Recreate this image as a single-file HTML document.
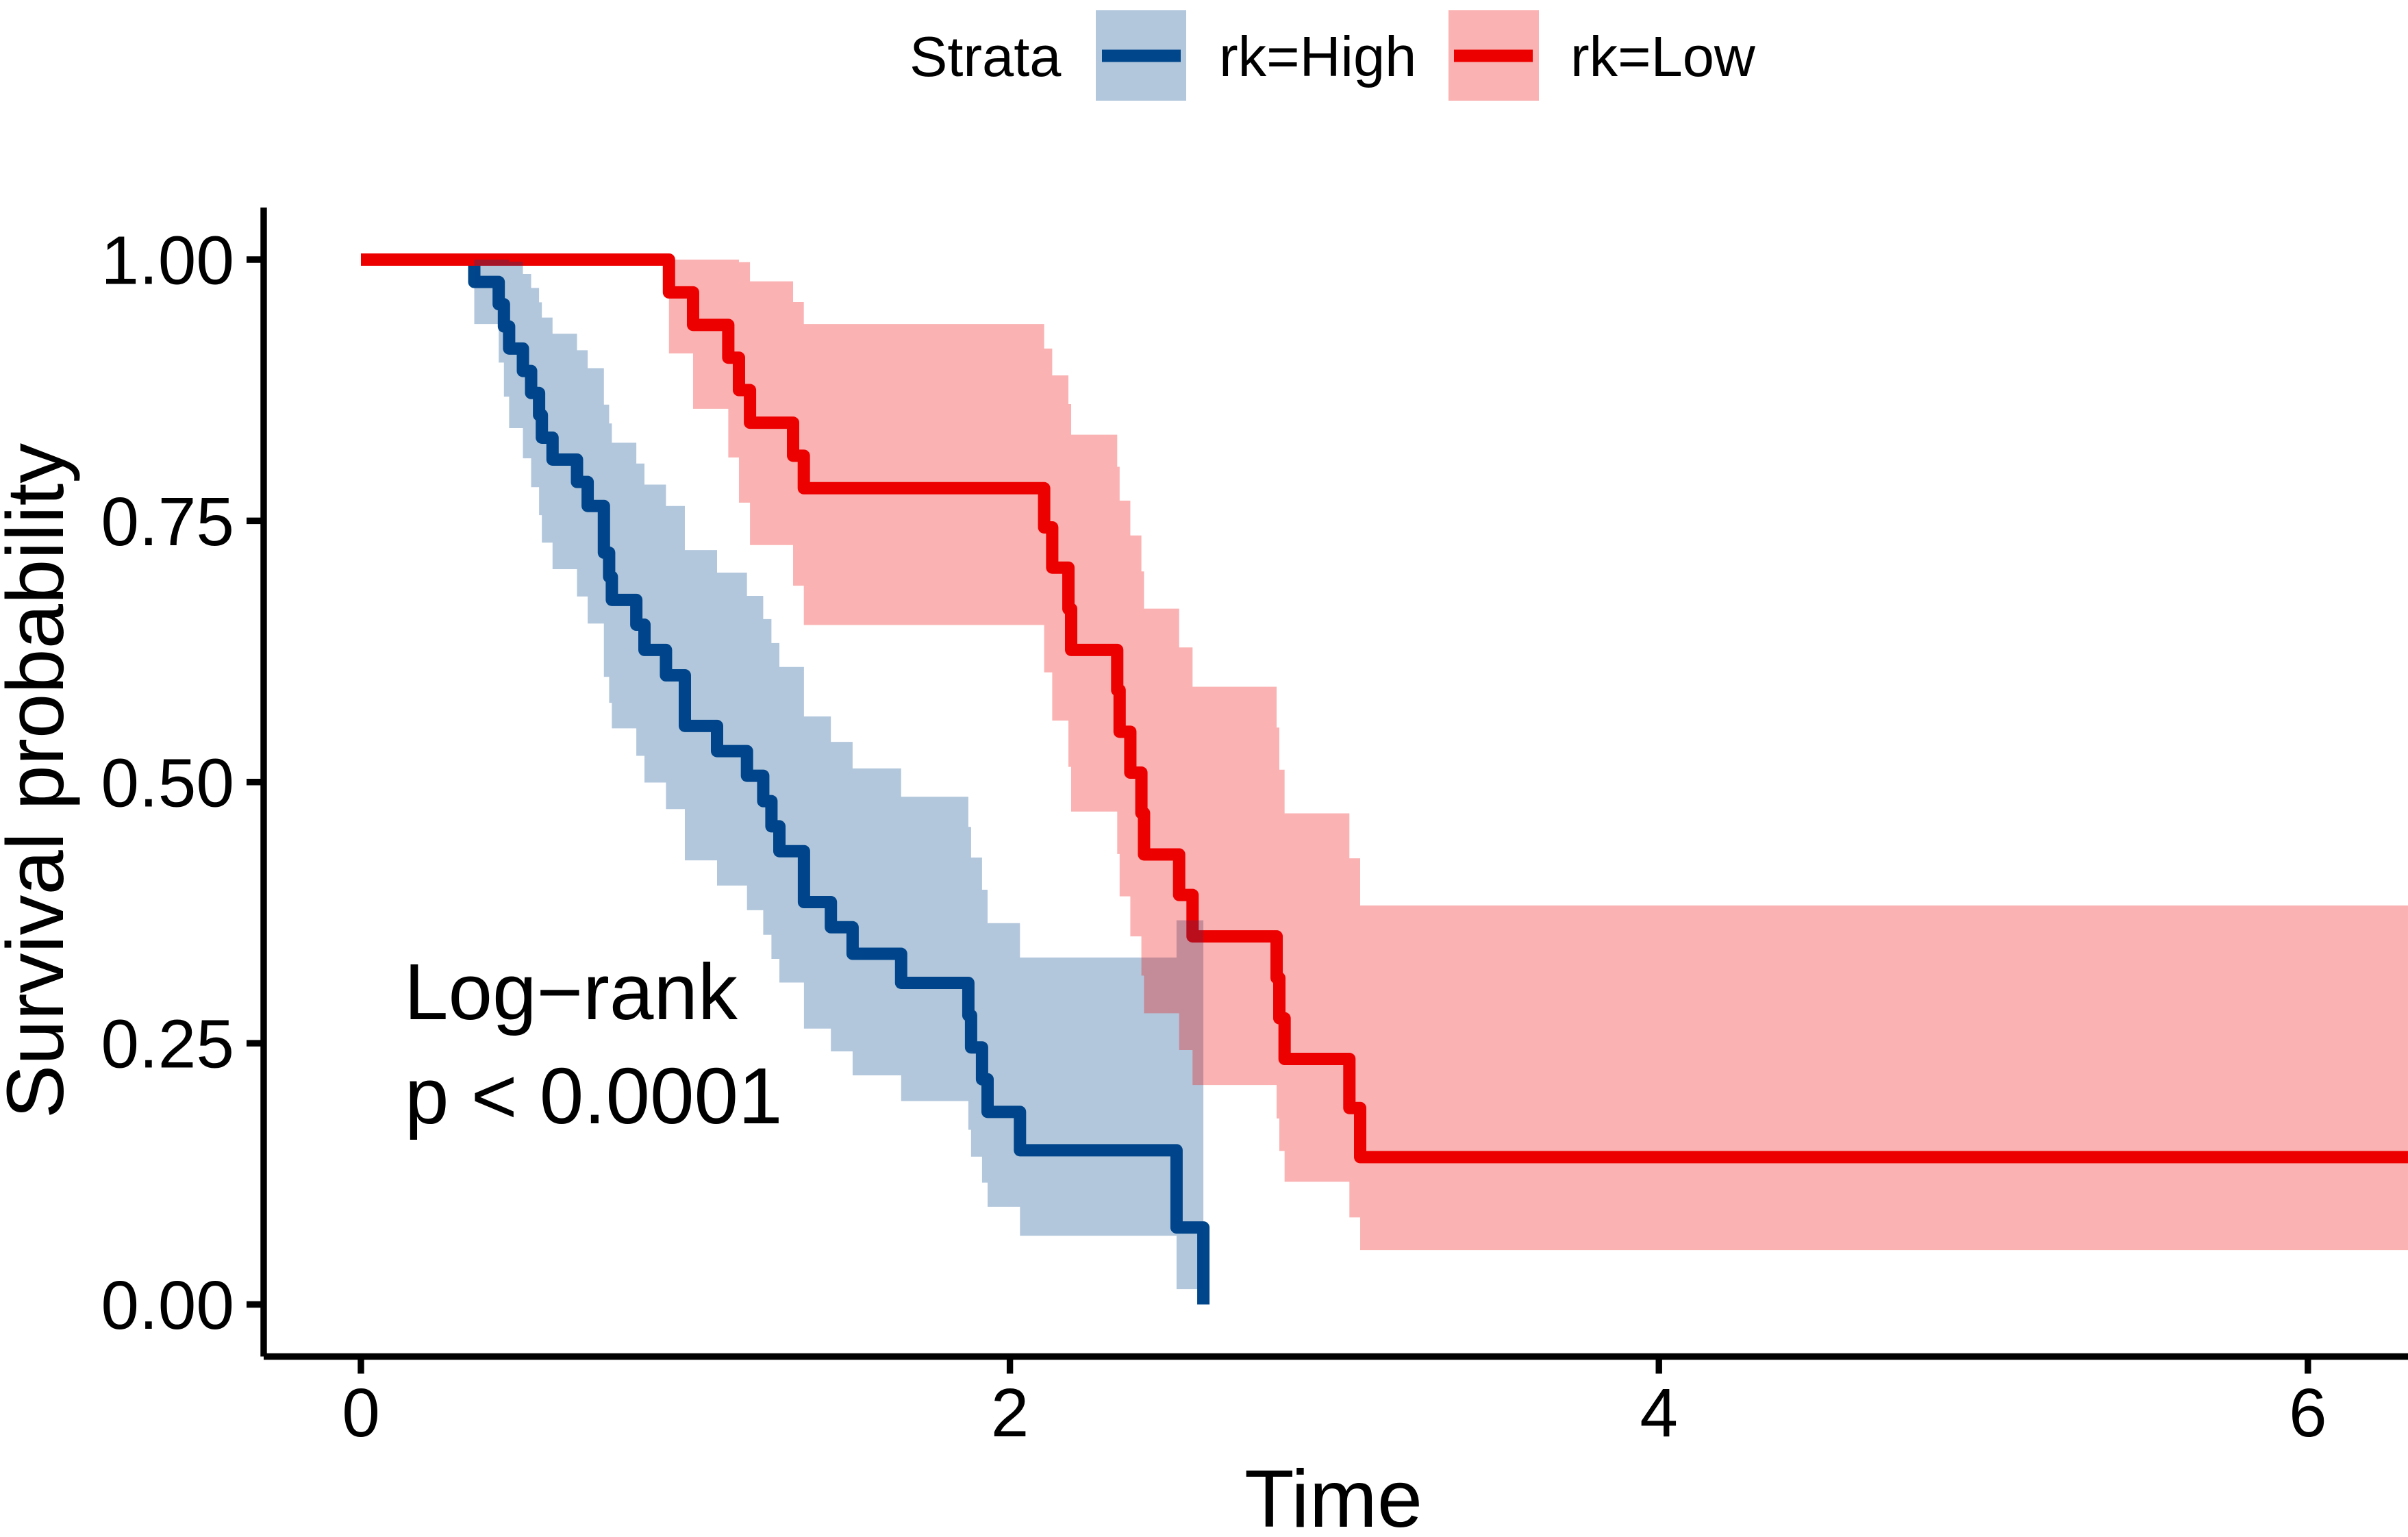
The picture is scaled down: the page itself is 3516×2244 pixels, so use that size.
<!DOCTYPE html>
<html lang="en">
<head>
<meta charset="utf-8">
<title>Kaplan-Meier survival curve</title>
<style>
html,body{margin:0;padding:0;background:#fff;}
svg{display:block;}
text{font-family:"Liberation Sans",sans-serif;fill:#000;}
</style>
</head>
<body>
<svg id="chart" xmlns="http://www.w3.org/2000/svg" width="3516" height="2244" viewBox="0 0 3516 2244">
  <rect x="0" y="0" width="3516" height="2244" fill="#ffffff"/>
  <g id="plot-lines"></g>
  <g id="plot-ribbons"></g>
  <g id="axes"></g>

  <g>
    <text x="1328" y="111" font-size="83">Strata</text>
    <rect x="1600" y="15" width="132" height="132" fill="#00468B" fill-opacity="0.3"/>
    <rect x="1609" y="72.5" width="115" height="18" fill="#00468B"/>
    <text x="1780" y="111" font-size="83">rk=High</text>
    <rect x="2115" y="15" width="132" height="132" fill="#ED0000" fill-opacity="0.3"/>
    <rect x="2123" y="72.5" width="115" height="18" fill="#ED0000"/>
    <text x="2293" y="111" font-size="83">rk=Low</text>
  </g>

  <text x="590" y="1488" font-size="116">Log−rank</text>
  <text x="591" y="1640" font-size="116">p &lt; 0.0001</text>

  <text x="1947" y="2229" font-size="119" text-anchor="middle">Time</text>
  <text transform="translate(92 1140) rotate(-90)" font-size="117.5" text-anchor="middle">Survival probability</text>
</svg>

<script>
const xTickValues = [0, 2, 4, 6];
const xTickLabels = ["0", "2", "4", "6"];
const yTickValues = [0, 0.25, 0.5, 0.75, 1];
const yTickLabels = ["0.00", "0.25", "0.50", "0.75", "1.00"];

const highTime = [0.3493,0.4246,0.4407,0.4567,0.4992,0.5245,0.5490,0.5576,0.5905,0.6659,0.6988,0.7488,0.7649,0.7733,0.8487,0.8738,0.9401,0.9983,1.0975,1.1897,1.2398,1.2651,1.2896,1.3653,1.4483,1.5152,1.6648,1.8719,1.8803,1.9141,1.9312,2.0310,2.5135,2.5962];
const highSurv = [0.9786,0.9573,0.9360,0.9149,0.8934,0.8723,0.8512,0.8296,0.8086,0.7872,0.7642,0.7195,0.6964,0.6743,0.6506,0.6264,0.6021,0.5537,0.5296,0.5060,0.4817,0.4576,0.4338,0.3851,0.3610,0.3356,0.3078,0.2767,0.2460,0.2155,0.1843,0.1476,0.0737,0];
const highUpper = [1,1,1,0.9980,0.9862,0.9729,0.9591,0.9445,0.9290,0.9132,0.8961,0.8612,0.8432,0.8247,0.8048,0.7847,0.7642,0.7220,0.7004,0.6781,0.6559,0.6330,0.6101,0.5628,0.5384,0.5130,0.4859,0.4571,0.4277,0.3969,0.3650,0.3320,0.3677];
const highLower = [0.9383,0.9014,0.8688,0.8387,0.8098,0.7822,0.7554,0.7291,0.7037,0.6776,0.6517,0.6006,0.5758,0.5514,0.5251,0.4995,0.4741,0.4250,0.4009,0.3773,0.3538,0.3307,0.3081,0.2640,0.2422,0.2193,0.1947,0.1672,0.1414,0.1166,0.0935,0.0658,0.0147];

const lowTime = [0.9493,1.0236,1.1321,1.1650,1.1990,1.3318,1.3649,2.1055,2.1304,2.1803,2.1887,2.3307,2.3381,2.3711,2.4052,2.4133,2.5215,2.5629,2.8219,2.8303,2.8465,3.0462,3.0794,6.3085];
const lowSurv = [0.9686,0.9375,0.9061,0.8751,0.8439,0.8123,0.7812,0.7437,0.7052,0.6657,0.6264,0.5879,0.5481,0.5090,0.4703,0.4307,0.3919,0.3523,0.3125,0.2739,0.2350,0.1880,0.1410,0.1410];
const lowUpper = [1,1,1,0.9975,0.9792,0.9594,0.9383,0.9149,0.8891,0.8617,0.8324,0.8017,0.7693,0.7360,0.7016,0.6659,0.6288,0.5912,0.5521,0.5118,0.4700,0.4270,0.3818];
const lowLower = [0.9102,0.8572,0.8106,0.7674,0.7268,0.6879,0.6503,0.6050,0.5588,0.5145,0.4717,0.4311,0.3906,0.3523,0.3147,0.2787,0.2435,0.2100,0.1780,0.1469,0.1174,0.0833,0.0520];

const SVG_NS = "http://www.w3.org/2000/svg";
const X0 = 527, X_PER_UNIT = 473.8;
const Y0 = 1904.5, Y_PER_UNIT = 1525.5;
const AXIS_X = 385, AXIS_Y = 1980.5, AXIS_TOP = 303, PLOT_RIGHT = 3516;

function xScale(t) { return X0 + X_PER_UNIT * t; }
function yScale(s) { return Y0 - Y_PER_UNIT * s; }

function linePath(times, surv) {
  let d = "M" + xScale(0) + " " + yScale(1);
  let prev = 1;
  for (let i = 0; i < times.length; i++) {
    d += "L" + xScale(times[i]).toFixed(2) + " " + yScale(prev).toFixed(2);
    d += "L" + xScale(times[i]).toFixed(2) + " " + yScale(surv[i]).toFixed(2);
    prev = surv[i];
  }
  return d;
}

function ribbonPath(times, upper, lower) {
  const n = upper.length;
  let top = "", bottom = "";
  for (let i = 0; i < n; i++) {
    const a = xScale(times[i]).toFixed(2);
    const b = xScale(times[i + 1]).toFixed(2);
    top += (i === 0 ? "M" : "L") + a + " " + yScale(upper[i]).toFixed(2);
    top += "L" + b + " " + yScale(upper[i]).toFixed(2);
    bottom = "L" + a + " " + yScale(lower[i]).toFixed(2) + bottom;
    bottom = "L" + b + " " + yScale(lower[i]).toFixed(2) + bottom;
  }
  return top + bottom + "Z";
}

const linesGroup = document.getElementById("plot-lines");
const ribbonsGroup = document.getElementById("plot-ribbons");
const axesGroup = document.getElementById("axes");

const highLine = document.createElementNS(SVG_NS, "path");


highLine.setAttribute("d", linePath(highTime, highSurv));
highLine.setAttribute("fill", "none");
highLine.setAttribute("stroke", "#00468B");
highLine.setAttribute("stroke-width", "18");
highLine.setAttribute("stroke-linejoin", "round");
highLine.setAttribute("stroke-linecap", "butt");
linesGroup.appendChild(highLine);

const lowLine = document.createElementNS(SVG_NS, "path");


lowLine.setAttribute("d", linePath(lowTime, lowSurv));
lowLine.setAttribute("fill", "none");
lowLine.setAttribute("stroke", "#ED0000");
lowLine.setAttribute("stroke-width", "18");
lowLine.setAttribute("stroke-linejoin", "round");
lowLine.setAttribute("stroke-linecap", "butt");
linesGroup.appendChild(lowLine);

const highRibbon = document.createElementNS(SVG_NS, "path");


highRibbon.setAttribute("d", ribbonPath(highTime, highUpper, highLower));
highRibbon.setAttribute("fill", "#00468B");
highRibbon.setAttribute("fill-opacity", "0.3");
ribbonsGroup.appendChild(highRibbon);

const lowRibbon = document.createElementNS(SVG_NS, "path");


lowRibbon.setAttribute("d", ribbonPath(lowTime, lowUpper, lowLower));
lowRibbon.setAttribute("fill", "#ED0000");
lowRibbon.setAttribute("fill-opacity", "0.3");
ribbonsGroup.appendChild(lowRibbon);

const yAxisLine = document.createElementNS(SVG_NS, "line");


yAxisLine.setAttribute("x1", AXIS_X);
yAxisLine.setAttribute("x2", AXIS_X);
yAxisLine.setAttribute("y1", AXIS_TOP);
yAxisLine.setAttribute("y2", AXIS_Y);
yAxisLine.setAttribute("stroke", "#000");
yAxisLine.setAttribute("stroke-width", "9.4");
axesGroup.appendChild(yAxisLine);

const xAxisLine = document.createElementNS(SVG_NS, "line");


xAxisLine.setAttribute("x1", AXIS_X);
xAxisLine.setAttribute("x2", PLOT_RIGHT);
xAxisLine.setAttribute("y1", AXIS_Y);
xAxisLine.setAttribute("y2", AXIS_Y);
xAxisLine.setAttribute("stroke", "#000");
xAxisLine.setAttribute("stroke-width", "9.4");
axesGroup.appendChild(xAxisLine);

xTickValues.forEach(function (v, i) {
  const tick = document.createElementNS(SVG_NS, "line");
  
  
  tick.setAttribute("x1", xScale(v));
  tick.setAttribute("x2", xScale(v));
  tick.setAttribute("y1", AXIS_Y);
  tick.setAttribute("y2", AXIS_Y + 25);
  tick.setAttribute("stroke", "#000");
  tick.setAttribute("stroke-width", "9.4");
  axesGroup.appendChild(tick);

  const label = document.createElementNS(SVG_NS, "text");
  
  
  label.setAttribute("x", xScale(v));
  label.setAttribute("y", 2097);
  label.setAttribute("font-size", "100");
  label.setAttribute("text-anchor", "middle");
  label.textContent = xTickLabels[i];
  axesGroup.appendChild(label);
});

yTickValues.forEach(function (v, i) {
  const tick = document.createElementNS(SVG_NS, "line");
  
  
  tick.setAttribute("x1", AXIS_X);
  tick.setAttribute("x2", AXIS_X - 25);
  tick.setAttribute("y1", yScale(v));
  tick.setAttribute("y2", yScale(v));
  tick.setAttribute("stroke", "#000");
  tick.setAttribute("stroke-width", "9.4");
  axesGroup.appendChild(tick);

  const label = document.createElementNS(SVG_NS, "text");
  
  
  label.setAttribute("x", 342);
  label.setAttribute("y", yScale(v) + 35.5);
  label.setAttribute("font-size", "100");
  label.setAttribute("text-anchor", "end");
  label.textContent = yTickLabels[i];
  axesGroup.appendChild(label);
});
</script>
</body>
</html>
